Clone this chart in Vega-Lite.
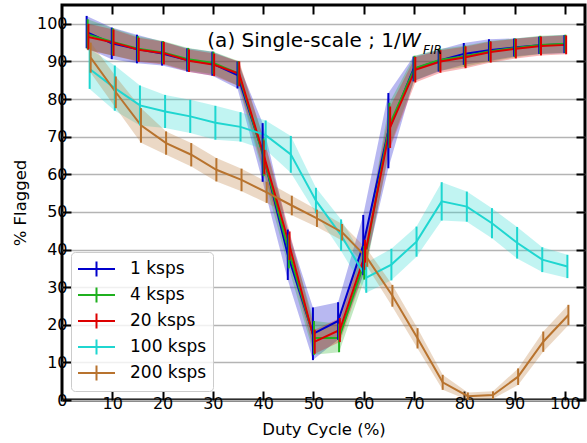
{
  "$schema": "https://vega.github.io/schema/vega-lite/v6.json",
  "width": 523,
  "height": 395,
  "autosize": "none",
  "padding": {"left": 62, "top": 5, "right": 2, "bottom": 43},
  "background": "white",
  "config": {
    "font": "DejaVu Sans",
    "view": {"stroke": "black", "strokeWidth": 3},
    "axis": {"labelColor": "black", "titleColor": "black", "titleFontWeight": "normal", "tickColor": "black", "tickWidth": 2, "domain": false, "labelOverlap": false},
    "axisY": {"tickCount": 11}
  },
  "layer": [
    {
      "layer": [
        {
          "data": {"values": [
            {"s":"1 ksps","dc":4.9,"y":97.8,"lo":93.5,"hi":102.1},
            {"s":"1 ksps","dc":9.9,"y":94.8,"lo":90.6,"hi":99.0},
            {"s":"1 ksps","dc":14.9,"y":93.3,"lo":89.5,"hi":97.1},
            {"s":"1 ksps","dc":19.9,"y":92.1,"lo":88.9,"hi":95.3},
            {"s":"1 ksps","dc":24.9,"y":90.4,"lo":87.3,"hi":93.5},
            {"s":"1 ksps","dc":29.9,"y":89.4,"lo":86.2,"hi":92.6},
            {"s":"1 ksps","dc":34.9,"y":86.4,"lo":82.8,"hi":90.0},
            {"s":"1 ksps","dc":39.9,"y":65.8,"lo":58.0,"hi":73.6},
            {"s":"1 ksps","dc":44.9,"y":38.6,"lo":31.9,"hi":45.3},
            {"s":"1 ksps","dc":49.9,"y":17.6,"lo":10.6,"hi":24.6},
            {"s":"1 ksps","dc":54.9,"y":21.0,"lo":16.0,"hi":26.0},
            {"s":"1 ksps","dc":59.9,"y":41.2,"lo":33.2,"hi":49.2},
            {"s":"1 ksps","dc":64.9,"y":71.6,"lo":61.6,"hi":81.6},
            {"s":"1 ksps","dc":69.9,"y":88.0,"lo":84.7,"hi":91.3},
            {"s":"1 ksps","dc":74.9,"y":90.2,"lo":87.3,"hi":93.1},
            {"s":"1 ksps","dc":79.9,"y":92.0,"lo":89.1,"hi":94.9},
            {"s":"1 ksps","dc":84.9,"y":93.0,"lo":90.1,"hi":95.9},
            {"s":"1 ksps","dc":89.9,"y":93.7,"lo":91.3,"hi":96.1},
            {"s":"1 ksps","dc":94.9,"y":94.3,"lo":92.0,"hi":96.6},
            {"s":"1 ksps","dc":99.9,"y":94.6,"lo":92.2,"hi":97.0},

            {"s":"4 ksps","dc":5.1,"y":97.2,"lo":93.2,"hi":101.2},
            {"s":"4 ksps","dc":10.1,"y":95.2,"lo":91.6,"hi":98.8},
            {"s":"4 ksps","dc":15.1,"y":93.4,"lo":90.1,"hi":96.7},
            {"s":"4 ksps","dc":20.1,"y":92.4,"lo":89.4,"hi":95.4},
            {"s":"4 ksps","dc":25.1,"y":90.6,"lo":87.6,"hi":93.6},
            {"s":"4 ksps","dc":30.1,"y":89.6,"lo":86.6,"hi":92.6},
            {"s":"4 ksps","dc":35.1,"y":86.8,"lo":83.5,"hi":90.1},
            {"s":"4 ksps","dc":40.1,"y":64.5,"lo":59.5,"hi":69.5},
            {"s":"4 ksps","dc":45.1,"y":39.5,"lo":35.0,"hi":44.0},
            {"s":"4 ksps","dc":50.1,"y":16.5,"lo":12.0,"hi":21.0},
            {"s":"4 ksps","dc":55.1,"y":16.5,"lo":12.7,"hi":20.3},
            {"s":"4 ksps","dc":60.1,"y":36.5,"lo":32.0,"hi":41.0},
            {"s":"4 ksps","dc":65.1,"y":73.0,"lo":67.0,"hi":79.0},
            {"s":"4 ksps","dc":70.1,"y":88.2,"lo":84.9,"hi":91.5},
            {"s":"4 ksps","dc":75.1,"y":90.4,"lo":87.5,"hi":93.3},
            {"s":"4 ksps","dc":80.1,"y":91.4,"lo":88.6,"hi":94.2},
            {"s":"4 ksps","dc":85.1,"y":92.7,"lo":90.0,"hi":95.4},
            {"s":"4 ksps","dc":90.1,"y":93.6,"lo":91.1,"hi":96.1},
            {"s":"4 ksps","dc":95.1,"y":94.4,"lo":92.0,"hi":96.8},
            {"s":"4 ksps","dc":100.1,"y":94.7,"lo":92.3,"hi":97.1},

            {"s":"20 ksps","dc":5.25,"y":96.5,"lo":93.0,"hi":100.0},
            {"s":"20 ksps","dc":10.25,"y":95.0,"lo":91.5,"hi":98.5},
            {"s":"20 ksps","dc":15.25,"y":93.1,"lo":89.9,"hi":96.3},
            {"s":"20 ksps","dc":20.25,"y":92.2,"lo":89.2,"hi":95.2},
            {"s":"20 ksps","dc":25.25,"y":90.2,"lo":87.2,"hi":93.2},
            {"s":"20 ksps","dc":30.25,"y":89.1,"lo":86.1,"hi":92.1},
            {"s":"20 ksps","dc":35.25,"y":86.7,"lo":83.4,"hi":90.0},
            {"s":"20 ksps","dc":40.25,"y":64.5,"lo":60.0,"hi":69.0},
            {"s":"20 ksps","dc":45.25,"y":41.0,"lo":37.2,"hi":44.8},
            {"s":"20 ksps","dc":50.25,"y":15.5,"lo":12.3,"hi":18.7},
            {"s":"20 ksps","dc":55.25,"y":18.6,"lo":15.4,"hi":21.8},
            {"s":"20 ksps","dc":60.25,"y":38.6,"lo":34.6,"hi":42.6},
            {"s":"20 ksps","dc":65.25,"y":72.5,"lo":67.0,"hi":78.0},
            {"s":"20 ksps","dc":70.25,"y":87.8,"lo":84.4,"hi":91.2},
            {"s":"20 ksps","dc":75.25,"y":90.0,"lo":87.0,"hi":93.0},
            {"s":"20 ksps","dc":80.25,"y":91.1,"lo":88.2,"hi":94.0},
            {"s":"20 ksps","dc":85.25,"y":92.5,"lo":89.7,"hi":95.3},
            {"s":"20 ksps","dc":90.25,"y":93.4,"lo":90.8,"hi":96.0},
            {"s":"20 ksps","dc":95.25,"y":94.1,"lo":91.6,"hi":96.6},
            {"s":"20 ksps","dc":100.25,"y":94.4,"lo":91.9,"hi":96.9},

            {"s":"100 ksps","dc":5.5,"y":88.0,"lo":82.7,"hi":93.3},
            {"s":"100 ksps","dc":10.5,"y":82.9,"lo":76.9,"hi":88.9},
            {"s":"100 ksps","dc":15.5,"y":78.3,"lo":73.0,"hi":83.6},
            {"s":"100 ksps","dc":20.5,"y":76.7,"lo":72.3,"hi":81.1},
            {"s":"100 ksps","dc":25.5,"y":75.4,"lo":71.0,"hi":79.8},
            {"s":"100 ksps","dc":30.5,"y":73.7,"lo":69.2,"hi":78.2},
            {"s":"100 ksps","dc":35.5,"y":72.6,"lo":68.7,"hi":76.5},
            {"s":"100 ksps","dc":40.5,"y":70.4,"lo":66.5,"hi":74.3},
            {"s":"100 ksps","dc":45.5,"y":65.3,"lo":60.4,"hi":70.2},
            {"s":"100 ksps","dc":50.5,"y":53.0,"lo":49.6,"hi":56.4},
            {"s":"100 ksps","dc":55.5,"y":43.8,"lo":39.6,"hi":48.0},
            {"s":"100 ksps","dc":60.5,"y":32.5,"lo":28.5,"hi":36.5},
            {"s":"100 ksps","dc":65.5,"y":36.0,"lo":31.8,"hi":40.2},
            {"s":"100 ksps","dc":70.5,"y":42.1,"lo":38.1,"hi":46.1},
            {"s":"100 ksps","dc":75.5,"y":52.8,"lo":47.7,"hi":57.9},
            {"s":"100 ksps","dc":80.5,"y":51.4,"lo":47.4,"hi":55.4},
            {"s":"100 ksps","dc":85.5,"y":47.0,"lo":43.0,"hi":51.0},
            {"s":"100 ksps","dc":90.5,"y":41.8,"lo":37.6,"hi":46.0},
            {"s":"100 ksps","dc":95.5,"y":37.3,"lo":34.0,"hi":40.6},
            {"s":"100 ksps","dc":100.5,"y":35.5,"lo":32.4,"hi":38.6},

            {"s":"200 ksps","dc":5.7,"y":91.0,"lo":87.0,"hi":95.0},
            {"s":"200 ksps","dc":10.7,"y":81.8,"lo":77.6,"hi":86.0},
            {"s":"200 ksps","dc":15.7,"y":73.0,"lo":68.4,"hi":77.6},
            {"s":"200 ksps","dc":20.7,"y":68.3,"lo":65.2,"hi":71.4},
            {"s":"200 ksps","dc":25.7,"y":65.2,"lo":62.1,"hi":68.3},
            {"s":"200 ksps","dc":30.7,"y":61.2,"lo":58.1,"hi":64.3},
            {"s":"200 ksps","dc":35.7,"y":58.5,"lo":55.5,"hi":61.5},
            {"s":"200 ksps","dc":40.7,"y":55.2,"lo":52.4,"hi":58.0},
            {"s":"200 ksps","dc":45.7,"y":51.7,"lo":49.1,"hi":54.3},
            {"s":"200 ksps","dc":50.7,"y":48.3,"lo":46.0,"hi":50.6},
            {"s":"200 ksps","dc":55.7,"y":44.6,"lo":42.4,"hi":46.8},
            {"s":"200 ksps","dc":60.7,"y":37.7,"lo":35.4,"hi":40.0},
            {"s":"200 ksps","dc":65.7,"y":27.7,"lo":24.8,"hi":30.6},
            {"s":"200 ksps","dc":70.7,"y":16.4,"lo":13.7,"hi":19.1},
            {"s":"200 ksps","dc":75.7,"y":4.7,"lo":2.7,"hi":6.7},
            {"s":"200 ksps","dc":80.7,"y":1.0,"lo":0.0,"hi":2.0},
            {"s":"200 ksps","dc":85.7,"y":1.3,"lo":0.3,"hi":2.3},
            {"s":"200 ksps","dc":90.7,"y":6.2,"lo":4.0,"hi":8.4},
            {"s":"200 ksps","dc":95.7,"y":15.5,"lo":12.8,"hi":18.2},
            {"s":"200 ksps","dc":100.7,"y":22.6,"lo":19.9,"hi":25.3}
          ]},
          "encoding": {
            "x": {"field": "dc", "type": "quantitative",
              "scale": {"domain": [0, 104], "nice": false, "zero": false},
              "axis": {"orient": "bottom", "values": [10,20,30,40,50,60,70,80,90,100], "title": "Duty Cycle (%)", "titleFontSize": 16.5, "titlePadding": 10, "labelFontSize": 16, "tickSize": -9, "labelPadding": 4, "grid": false}},
            "y": {"field": "y", "type": "quantitative", "scale": {"domain": [0, 105], "nice": false, "zero": false},
              "axis": {"orient": "left", "values": [0,10,20,30,40,50,60,70,80,90,100], "title": "% Flagged", "titleFontSize": 16.5, "titlePadding": 8, "labelFontSize": 16, "tickSize": -9, "labelPadding": 4, "grid": true, "gridColor": "#b4b4b4", "gridWidth": 1.3}},
            "color": {"field": "s", "type": "nominal",
              "scale": {"domain": ["1 ksps","4 ksps","20 ksps","100 ksps","200 ksps"], "range": ["#0000cc","#1fb01f","#dd0000","#1fd6d0","#b8732e"]},
              "legend": {"orient": "bottom-left", "offset": 9, "title": null, "labelFontSize": 17, "labelColor": "black", "symbolType": "M-1,0H2.7M0.85,-0.75V0.75", "symbolSize": 400, "symbolStrokeWidth": 2, "symbolOpacity": 1, "padding": 6, "rowPadding": 2, "labelOffset": 31, "cornerRadius": 4, "strokeColor": "#cccccc", "fillColor": "rgba(255,255,255,0.8)",
                "encode": {"symbols": {"update": {"stroke": {"scale": "color", "field": "value"}, "fill": {"value": "transparent"}, "opacity": {"value": 1}}}}}}
          },
          "layer": [
            {"mark": {"type": "area", "opacity": 0.28},
             "encoding": {"y": {"field": "lo", "type": "quantitative", "scale": {"domain": [0, 105], "nice": false, "zero": false},
               "axis": {"orient": "left", "values": [0,10,20,30,40,50,60,70,80,90,100], "title": "% Flagged", "titleFontSize": 16.5, "titlePadding": 8, "labelFontSize": 16, "tickSize": -9, "labelPadding": 4, "grid": true, "gridColor": "#b4b4b4", "gridWidth": 1.3}},
               "y2": {"field": "hi"}}},
            {"mark": {"type": "line", "strokeWidth": 2}},
            {"mark": {"type": "rule", "strokeWidth": 2},
             "encoding": {"y": {"field": "lo", "type": "quantitative", "scale": {"domain": [0, 105], "nice": false, "zero": false},
               "axis": {"orient": "left", "values": [0,10,20,30,40,50,60,70,80,90,100], "title": "% Flagged", "titleFontSize": 16.5, "titlePadding": 8, "labelFontSize": 16, "tickSize": -9, "labelPadding": 4, "grid": true, "gridColor": "#b4b4b4", "gridWidth": 1.3}}, "y2": {"field": "hi"}}}
          ]
        },
        {"data": {"values": [{}]},
         "mark": {"type": "text", "text": "(a) Single-scale ; 1/", "align": "right", "baseline": "alphabetic", "fontSize": 20, "color": "black"},
         "encoding": {"x": {"datum": 67.35, "type": "quantitative"}, "y": {"datum": 93.8, "type": "quantitative"}}},
        {"data": {"values": [{}]},
         "mark": {"type": "text", "text": "W", "align": "left", "baseline": "alphabetic", "fontSize": 20, "fontStyle": "italic", "color": "black"},
         "encoding": {"x": {"datum": 67.4, "type": "quantitative"}, "y": {"datum": 93.8, "type": "quantitative"}}},
        {"data": {"values": [{}]},
         "mark": {"type": "text", "text": "FIR", "align": "left", "baseline": "alphabetic", "fontSize": 12, "fontStyle": "italic", "color": "black"},
         "encoding": {"x": {"datum": 71.8, "type": "quantitative"}, "y": {"datum": 92.1, "type": "quantitative"}}}
      ]
    },
    {
      "data": {"values": [{"dc": 0, "y": 0}]},
      "mark": {"type": "point", "opacity": 0},
      "encoding": {
        "x": {"field": "dc", "type": "quantitative", "scale": {"domain": [0, 104], "nice": false, "zero": false},
          "axis": {"orient": "top", "values": [10,20,30,40,50,60,70,80,90,100], "labels": false, "title": null, "tickSize": -9, "grid": false}},
        "y": {"field": "y", "type": "quantitative", "scale": {"domain": [0, 105], "nice": false, "zero": false},
          "axis": {"orient": "right", "values": [0,10,20,30,40,50,60,70,80,90,100], "labels": false, "title": null, "tickSize": -9, "grid": false}}
      }
    }
  ],
  "resolve": {"scale": {"x": "independent", "y": "independent"}}
}
